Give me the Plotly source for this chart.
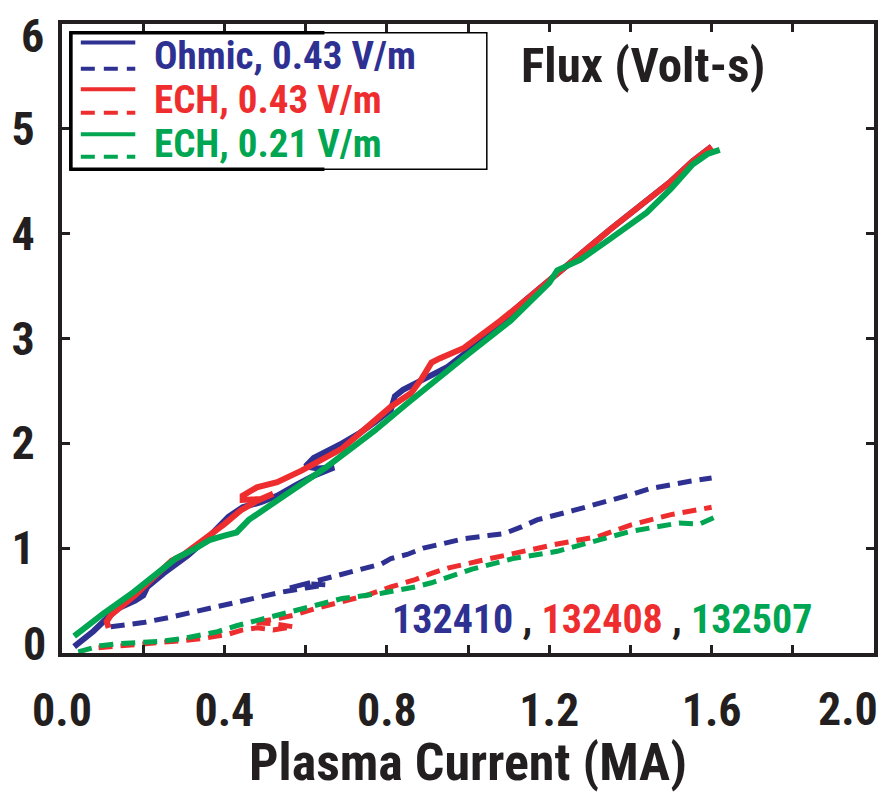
import plotly.graph_objects as go

# ---------------- data ----------------
ohmic_solid_x = [0.03, 0.05, 0.078, 0.11, 0.14, 0.18, 0.20, 0.21, 0.25, 0.31, 0.36, 0.41, 0.445, 0.49, 0.53,
                 0.575, 0.62, 0.67, 0.63, 0.60, 0.62, 0.69, 0.73, 0.77, 0.81, 0.82, 0.84, 0.89, 0.95, 1.00,
                 1.05, 1.08, 1.14, 1.20, 1.276, 1.35, 1.44, 1.50, 1.553, 1.60]
ohmic_solid_y = [0.06, 0.12, 0.21, 0.33, 0.43, 0.50, 0.55, 0.63, 0.76, 0.93, 1.10, 1.30, 1.39, 1.44, 1.50,
                 1.60, 1.69, 1.77, 1.76, 1.78, 1.86, 2.00, 2.09, 2.20, 2.32, 2.45, 2.51, 2.61, 2.73, 2.88,
                 3.04, 3.15, 3.36, 3.56, 3.80, 4.04, 4.31, 4.50, 4.69, 4.83]
ohmic_dash_x = [0.12, 0.20, 0.265, 0.31, 0.41, 0.445, 0.50, 0.54, 0.60, 0.65, 0.60, 0.56, 0.62, 0.68, 0.73,
                0.787, 0.81, 0.85, 0.89, 0.92, 0.99, 1.05, 1.09, 1.13, 1.17, 1.26, 1.32, 1.36, 1.40, 1.45,
                1.50, 1.55, 1.60]
ohmic_dash_y = [0.25, 0.29, 0.34, 0.38, 0.47, 0.50, 0.54, 0.58, 0.62, 0.65, 0.66, 0.62, 0.68, 0.74, 0.80,
                0.85, 0.90, 0.94, 1.00, 1.03, 1.09, 1.12, 1.14, 1.20, 1.27, 1.36, 1.42, 1.46, 1.51, 1.57,
                1.61, 1.64, 1.67]

ech43_solid_x = [0.115, 0.11, 0.12, 0.15, 0.18, 0.22, 0.27, 0.30, 0.35, 0.40, 0.44, 0.48, 0.52, 0.49,
                 0.445, 0.445, 0.48, 0.53, 0.59, 0.64, 0.69, 0.75, 0.81, 0.86, 0.885, 0.91, 0.93, 0.99,
                 1.04, 1.08, 1.14, 1.20, 1.276, 1.35, 1.44, 1.50, 1.553, 1.60]
ech43_solid_y = [0.24, 0.30, 0.36, 0.45, 0.55, 0.70, 0.88, 0.94, 1.08, 1.23, 1.36, 1.45, 1.52, 1.47,
                 1.46, 1.50, 1.58, 1.63, 1.74, 1.85, 1.95, 2.15, 2.35, 2.48, 2.61, 2.77, 2.81, 2.91,
                 3.05, 3.17, 3.36, 3.56, 3.80, 4.04, 4.31, 4.50, 4.69, 4.83]
ech43_dash_x = [0.09, 0.16, 0.22, 0.30, 0.35, 0.41, 0.445, 0.48, 0.52, 0.57, 0.52, 0.47, 0.52, 0.57,
                0.63, 0.69, 0.75, 0.81, 0.87, 0.91, 0.95, 1.03, 1.13, 1.22, 1.32, 1.40, 1.50, 1.60]
ech43_dash_y = [0.05, 0.07, 0.09, 0.12, 0.14, 0.18, 0.22, 0.24, 0.22, 0.25, 0.28, 0.29, 0.32, 0.36,
                0.43, 0.49, 0.55, 0.63, 0.70, 0.76, 0.81, 0.88, 0.97, 1.04, 1.11, 1.22, 1.32, 1.39]

ech21_solid_x = [0.03, 0.10, 0.176, 0.23, 0.28, 0.33, 0.365, 0.40, 0.43, 0.46, 0.52, 0.57, 0.65, 0.71,
                 0.77, 0.85, 0.93, 1.00, 1.105, 1.20, 1.22, 1.276, 1.35, 1.44, 1.50, 1.553, 1.59, 1.62]
ech21_solid_y = [0.16, 0.37, 0.58, 0.75, 0.90, 1.00, 1.08, 1.12, 1.15, 1.27, 1.42, 1.56, 1.77, 1.95,
                 2.12, 2.38, 2.64, 2.85, 3.17, 3.53, 3.65, 3.75, 3.95, 4.20, 4.43, 4.66, 4.76, 4.80]
ech21_dash_x = [0.04, 0.095, 0.145, 0.20, 0.24, 0.30, 0.33, 0.38, 0.43, 0.46, 0.52, 0.57, 0.63, 0.69,
                0.75, 0.787, 0.87, 0.91, 1.01, 1.11, 1.22, 1.32, 1.40, 1.46, 1.52, 1.57, 1.61]
ech21_dash_y = [0.01, 0.07, 0.09, 0.10, 0.11, 0.14, 0.16, 0.20, 0.26, 0.29, 0.34, 0.39, 0.45, 0.52,
                0.55, 0.57, 0.63, 0.67, 0.80, 0.90, 0.97, 1.08, 1.16, 1.20, 1.24, 1.23, 1.30]

series_names = ["Ohmic, 0.43 V/m", "ECH, 0.43 V/m", "ECH, 0.21 V/m"]
shot_numbers = ["132410", "132408", "132507"]
x_tick_vals = [0.0, 0.2, 0.4, 0.6, 0.8, 1.0, 1.2, 1.4, 1.6, 1.8, 2.0]
x_tick_text = ["0.0", "", "0.4", "", "0.8", "", "1.2", "", "1.6", "", "2.0"]
y_tick_vals = [0, 1, 2, 3, 4, 5, 6]
y_tick_text = ["0", "1", "2", "3", "4", "5", "6"]

# ---------------- styling ----------------
BLUE = "#2E3192"
RED = "#EE2D2F"
GREEN = "#00A651"
INK = "#231F20"
colors = [BLUE, RED, GREEN]
FONT = ("Roboto Condensed, Open Sans Condensed, Liberation Sans Narrow, Arial Narrow, "
        "DejaVu Sans Condensed, Liberation Sans, sans-serif")
DASH = "14px,8px"
TICK_SIZE = 46

W, H = 890, 793
ML, MR, MT, MB = 58, 12, 24, 124
PW, PH = W - ML - MR, H - MT - MB


def px(xp):
    return (xp - ML) / PW


def py(yp):
    return (H - MB - yp) / PH


fig = go.Figure()
solid = [(ohmic_solid_x, ohmic_solid_y), (ech43_solid_x, ech43_solid_y), (ech21_solid_x, ech21_solid_y)]
dashed = [(ohmic_dash_x, ohmic_dash_y), (ech43_dash_x, ech43_dash_y), (ech21_dash_x, ech21_dash_y)]
for (dx, dy), c, n in zip(dashed, colors, series_names):
    fig.add_trace(go.Scatter(x=dx, y=dy, mode="lines", name=n, showlegend=False,
                             line=dict(color=c, width=5, dash=DASH)))
for (sx, sy), c, n in zip(solid, colors, series_names):
    fig.add_trace(go.Scatter(x=sx, y=sy, mode="lines", name=n, showlegend=False,
                             line=dict(color=c, width=6)))

shapes = []
annotations = []

# custom legend box (solid + dashed sample per entry)
shapes.append(dict(type="rect", xref="paper", yref="paper", x0=px(66), x1=px(487), y0=py(173), y1=py(33),
                   line=dict(color="black", width=1.5), fillcolor="white", layer="below"))
shapes.append(dict(type="path", xref="paper", yref="paper",
                   path=f"M {px(323)} {py(33)} L {px(67)} {py(33)} L {px(67)} {py(173)} L {px(323)} {py(173)}",
                   line=dict(color="black", width=3.5)))
row_solid_y = [43, 91, 137]
row_dash_y = [70, 115, 160]
row_text_y = [57, 102, 147]
for c, n, ys, yd, yt in zip(colors, series_names, row_solid_y, row_dash_y, row_text_y):
    shapes.append(dict(type="line", xref="paper", yref="paper", x0=px(77), x1=px(132), y0=py(ys), y1=py(ys),
                       line=dict(color=c, width=4)))
    shapes.append(dict(type="line", xref="paper", yref="paper", x0=px(77), x1=px(132), y0=py(yd), y1=py(yd),
                       line=dict(color=c, width=4, dash="14px,9px")))
    annotations.append(dict(xref="paper", yref="paper", x=px(149), y=py(yt), xanchor="left", yanchor="middle",
                            text=n, showarrow=False,
                            font=dict(family=FONT, size=39, color=c, weight="bold")))

annotations.append(dict(xref="paper", yref="paper", x=px(519), y=py(67), xanchor="left", yanchor="middle",
                        text="Flux (Volt-s)", showarrow=False,
                        font=dict(family=FONT, size=49, color=INK, weight="bold")))

shot_text = (f'<span style="color:{BLUE}">{shot_numbers[0]}</span> , '
             f'<span style="color:{RED}">{shot_numbers[1]}</span> , '
             f'<span style="color:{GREEN}">{shot_numbers[2]}</span>')
annotations.append(dict(xref="paper", yref="paper", x=px(389), y=py(635), xanchor="left", yanchor="middle",
                        text=shot_text, showarrow=False,
                        font=dict(family=FONT, size=40, color=INK, weight="bold")))

# end tick labels that sit inside the figure in the reference (shifted like the original)
tickfont = dict(family=FONT, size=TICK_SIZE, color=INK, weight="bold")
annotations.append(dict(xref="paper", yref="paper", x=px(42), y=py(36), xanchor="right", yanchor="middle",
                        text=y_tick_text[-1], showarrow=False, font=tickfont))
annotations.append(dict(xref="paper", yref="paper", x=px(44), y=py(660), xanchor="right", yanchor="middle",
                        text=y_tick_text[0], showarrow=False, font=tickfont))
annotations.append(dict(xref="paper", yref="paper", x=px(884), y=py(726), xanchor="right", yanchor="middle",
                        text=x_tick_text[-1], showarrow=False, font=tickfont))
x_axis_text = x_tick_text[:-1] + [""]
y_axis_text = [""] + y_tick_text[1:-1] + [""]

axis_common = dict(showline=True, linecolor=INK, linewidth=4, mirror="allticks", ticks="inside",
                   ticklen=8, tickwidth=3, tickcolor=INK, showgrid=False, zeroline=False,
                   ticklabeloverflow="allow")

fig.update_layout(
    width=W, height=H,
    margin=dict(l=ML, r=MR, t=MT, b=MB, pad=0),
    paper_bgcolor="white", plot_bgcolor="white",
    showlegend=False,
    shapes=shapes, annotations=annotations,
    xaxis=dict(range=[0, 2.0], tickmode="array", tickvals=x_tick_vals, ticktext=x_axis_text,
               tickfont=tickfont, ticklabelstandoff=14,
               title=dict(text="Plasma Current (MA)", standoff=7,
                          font=dict(family=FONT, size=52, color=INK, weight="bold")),
               **axis_common),
    yaxis=dict(range=[0, 6], tickmode="array", tickvals=y_tick_vals, ticktext=y_axis_text,
               tickfont=tickfont, ticklabelstandoff=14,
               **axis_common),
)

fig.write_html("out.html")
